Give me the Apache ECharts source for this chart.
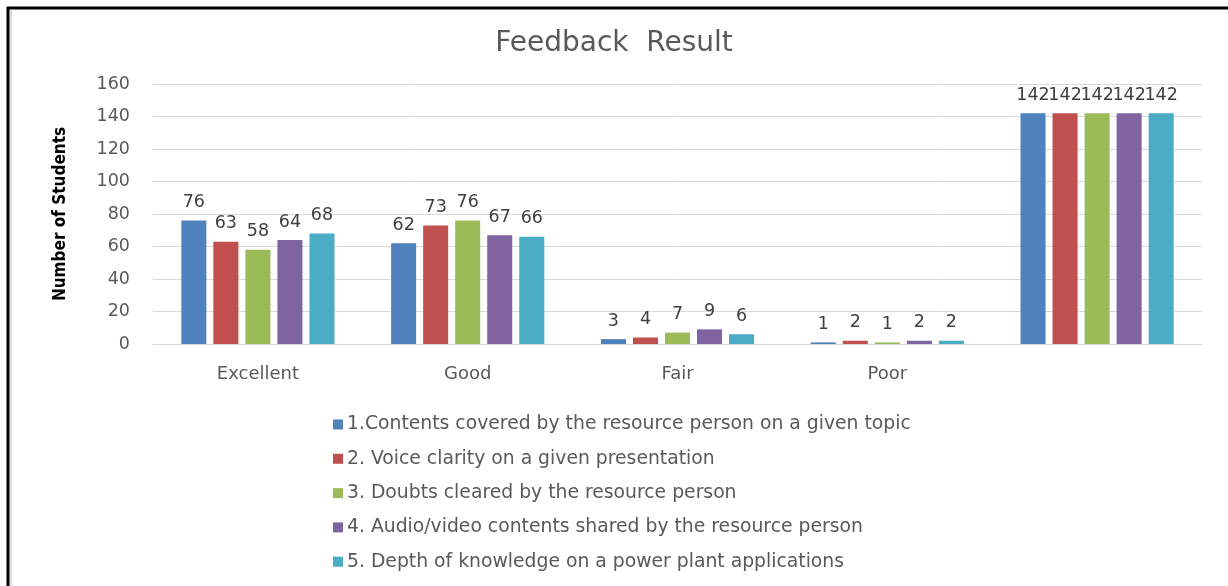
<!DOCTYPE html>
<html><head><meta charset="utf-8">
<script src="https://cdn.jsdelivr.net/npm/echarts@6/dist/echarts.min.js"></script>
<style>html,body{margin:0;padding:0;background:#fff}#c{width:1228px;height:586px}</style>
</head><body><div id="c"></div>
<script>
const categories = ['Excellent', 'Good', 'Fair', 'Poor', ''];
const seriesNames = [
  '1.Contents covered by the resource person on a given topic',
  '2. Voice clarity on a given presentation',
  '3. Doubts cleared by the resource person',
  '4. Audio/video contents shared by the resource person',
  '5. Depth of knowledge on a power plant applications'
];
const s1 = [76, 62, 3, 1, 142];
const s2 = [63, 73, 4, 2, 142];
const s3 = [58, 76, 7, 1, 142];
const s4 = [64, 67, 9, 2, 142];
const s5 = [68, 66, 6, 2, 142];
const colors = ['#4F81BD', '#C0504D', '#9BBB59', '#8064A2', '#4BACC6'];
const yTicks = {min: 0, max: 160, interval: 20};

const chart = echarts.init(document.getElementById('c'));
const FONT = 'DejaVu Sans';
const allData = [s1, s2, s3, s4, s5];
chart.setOption({
  animation: false,
  color: colors,
  title: {
    text: 'Feedback  Result', left: 'center', top: 25,
    textStyle: {fontFamily: FONT, fontSize: 28, fontWeight: 'normal', color: '#595959'}
  },
  legend: {
    orient: 'vertical', left: 328, top: 410, itemGap: 15.3,
    itemWidth: 10, itemHeight: 10, icon: 'rect',
    textStyle: {fontFamily: FONT, fontSize: 18.8, color: '#595959', padding: [0, 0, 0, -1]},
    data: seriesNames
  },
  grid: {left: 153, right: 26, top: 84, bottom: 242},
  xAxis: {
    type: 'category', data: categories,
    axisLine: {lineStyle: {color: '#d9d9d9', width: 1}},
    axisTick: {show: false},
    axisLabel: {fontFamily: FONT, fontSize: 18, color: '#595959', margin: 21}
  },
  yAxis: {
    type: 'value', min: yTicks.min, max: yTicks.max, interval: yTicks.interval,
    name: 'Number of Students', nameLocation: 'middle', nameGap: 84, nameRotate: 90,
    nameTextStyle: {fontFamily: 'Liberation Sans Narrow, DejaVu Sans Condensed, sans-serif', fontSize: 17, fontWeight: 'bold', color: '#000'},
    axisLine: {show: false}, axisTick: {show: false},
    splitLine: {lineStyle: {color: '#d9d9d9', width: 1}},
    axisLabel: {fontFamily: FONT, fontSize: 17.5, color: '#595959', margin: 23}
  },
  graphic: [
    {type: 'line', shape: {x1: 7, y1: 8, x2: 1228, y2: 8}, style: {stroke: '#000', lineWidth: 3}},
    {type: 'line', shape: {x1: 8, y1: 7, x2: 8, y2: 586}, style: {stroke: '#000', lineWidth: 3}},
    {type: 'line', shape: {x1: 11, y1: 10, x2: 11, y2: 586}, style: {stroke: '#dcdcdc', lineWidth: 2}}
  ],
  series: allData.map((d, i) => ({
    name: seriesNames[i], type: 'bar', data: d,
    barGap: '28%', barCategoryGap: '27%',
    label: {show: true, position: 'top', distance: 9, fontFamily: FONT, fontSize: 17.5, color: '#404040'}
  }))
});
</script></body></html>
